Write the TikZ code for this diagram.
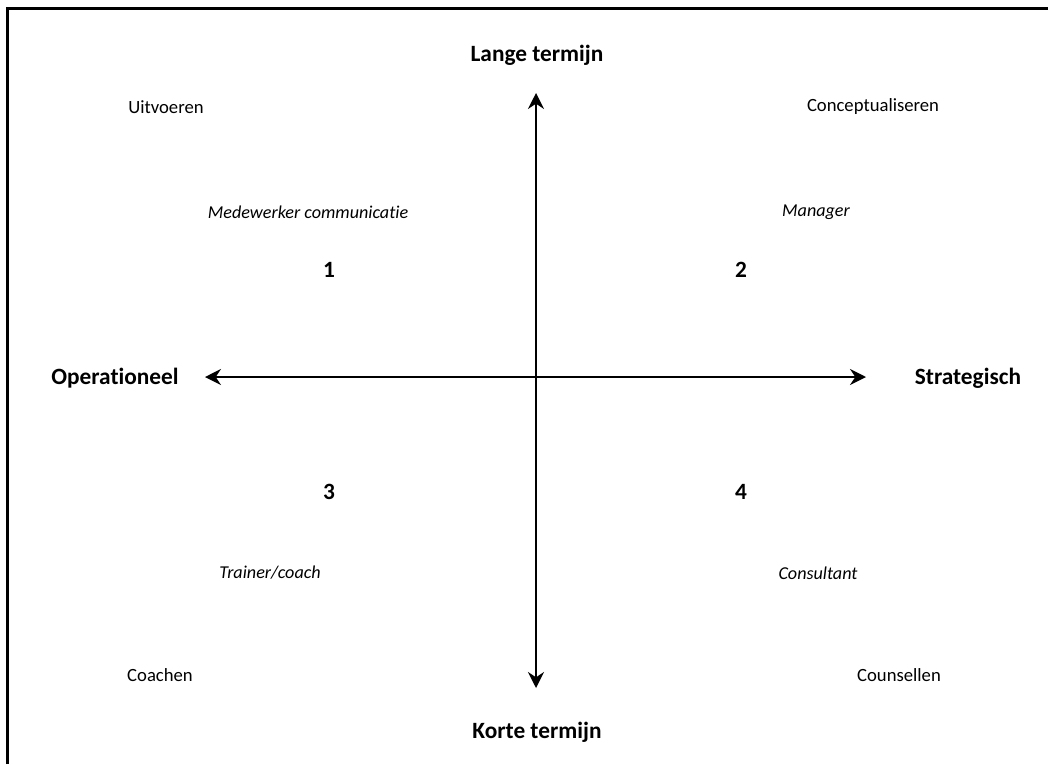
\documentclass[tikz,border=0pt]{standalone}
\usepackage{fontspec}
\setmainfont{Carlito}[Ligatures=NoCommon]
\usepackage{tikz}
\usetikzlibrary{positioning, arrows.meta}

\begin{document}
\begin{tikzpicture}[x=0.75pt, y=-0.75pt, every node/.style={align=center, font=\fontsize{14}{16}\selectfont},
    axislabel/.style={font=\fontsize{17.5}{20}\selectfont\bfseries},
    rolelabel/.style={font=\fontsize{13.6}{16}\selectfont\itshape},
    quadnum/.style={font=\fontsize{17.5}{20}\selectfont\bfseries},
    axis/.style={{Stealth[length=12pt, width=12pt, inset=4pt]}-{Stealth[length=12pt, width=12pt, inset=4pt]}, line width=1.5pt}]
  \useasboundingbox (0,0) rectangle (1048,764);
  % Frame
  \draw[line width=1.6pt] (7.5,764) -- (7.5,8.5) -- (1048,8.5);

  % Axis ends
  \coordinate (top) at (536,93);
  \coordinate (bottom) at (536,688);
  \coordinate (left) at (205,377);
  \coordinate (right) at (866,377);

  % Axis labels
  \node[axislabel] (lang) at (537,55) {Lange termijn};
  \node[axislabel] (kort) at (537,732) {Korte termijn};
  \node[axislabel] (oper) at (115,378) {Operationeel};
  \node[axislabel] (strat) at (968,378) {Strategisch};

  % Corners
  \node (uitv) at (166,107) {Uitvoeren};
  \node (conc) at (873,107) {Conceptualiseren};
  \node (coach) at (160,675) {Coachen};
  \node (couns) at (899,675) {Counsellen};

  % Roles
  \node[rolelabel] (medew) at (308,212) {Medewerker communicatie};
  \node[rolelabel] (manag) at (816,212) {Manager};
  \node[rolelabel] (train) at (270,573) {Trainer/coach};
  \node[rolelabel] (consu) at (818,573) {Consultant};

  % Quadrants
  \node[quadnum] (q1) at (329,270) {1};
  \node[quadnum] (q2) at (741,270) {2};
  \node[quadnum] (q3) at (329,492) {3};
  \node[quadnum] (q4) at (741,492) {4};

  % Arrows
  \draw[axis] (bottom) -- (top);
  \draw[axis] (left) -- (right);
\end{tikzpicture}
\end{document}
